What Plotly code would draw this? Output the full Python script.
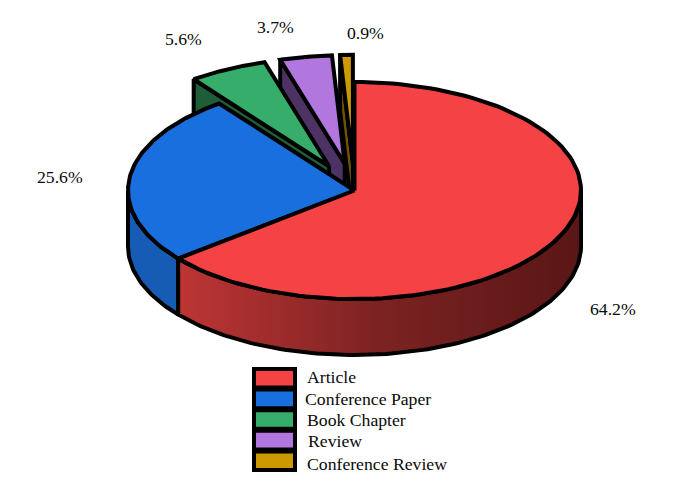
import numpy as np
import plotly.graph_objects as go

categories = ['Article', 'Conference Paper', 'Book Chapter', 'Review', 'Conference Review']
values = [64.2, 25.6, 5.6, 3.7, 0.9]
exploded = [False, False, True, True, True]
colors = ['#F44245', '#1A6FDF', '#37AD6B', '#B177DE', '#CC9900']
side_colors = ['#8E2A2B', '#175CB4', '#1F5C38', '#4C3364', '#6E5300']

# pie geometry in page pixels
cx, cy = 354.5, 190.5
rx, ry = 226.5, 108.5
depth = 56
explode = 0.25
outline = 4
label_pos = [(613, 309), (60, 177), (183, 39), (275, 27), (365, 33)]
legend_text_x = [305, 303, 305, 306, 305]
legend_text_y = [377, 399, 420, 441, 464]

ends = np.cumsum(values) / sum(values) * 360
starts = np.concatenate([[0], ends[:-1]])


def ellipse(theta, ox=0, oy=0):
    t = np.radians(theta)
    return cx + ox + rx * np.sin(t), cy + oy - ry * np.cos(t)


def poly(x, y, fill, **kw):
    return go.Scatter(x=x, y=y, mode='lines', fill='toself', fillcolor=fill,
                      line=dict(color='black', width=outline), hoverinfo='skip',
                      showlegend=False, **kw)


fig = go.Figure()

# back to front: small exploded slices first, red last
for i in [4, 3, 2, 1, 0]:
    a, b = starts[i], ends[i]
    ox, oy = 0, 0
    if exploded[i]:
        mid = (a + b) / 2
        ox = explode * rx * np.sin(np.radians(mid))
        oy = -explode * ry * np.cos(np.radians(mid))
    ax, ay = cx + ox, cy + oy

    if exploded[i]:
        # left radial wall
        ex, ey = ellipse(a, ox, oy)
        fig.add_trace(poly([ax, ex, ex, ax, ax], [ay, ey, ey + depth, ay + depth, ay], side_colors[i]))
    elif i == 1:
        th = np.linspace(a, 270, 40)
        x, y = ellipse(th, ox, oy)
        fig.add_trace(poly(np.r_[x, x[::-1], x[0]], np.r_[y, y[::-1] + depth, y[0]], side_colors[i]))
    else:
        th = np.linspace(90, b, 120)
        x, y = ellipse(th, ox, oy)
        fig.add_trace(poly(np.r_[x, x[::-1], x[0]], np.r_[y, y[::-1] + depth, y[0]], side_colors[i],
                           fillgradient=dict(type='horizontal',
                                             colorscale=[[0, '#BE3535'], [0.5, '#7C2222'], [1, '#5A1616']])))

    th = np.linspace(a, b, 120)
    x, y = ellipse(th, ox, oy)
    fig.add_trace(poly(np.r_[ax, x, ax], np.r_[ay, y, ay], colors[i]))

shapes = []
annotations = []
for i, name in enumerate(categories):
    top = 369 + 20.6 * i
    shapes.append(dict(type='rect', x0=254, x1=295, y0=top, y1=top + 18.6, fillcolor=colors[i],
                       line=dict(color='black', width=outline)))
    annotations.append(dict(x=legend_text_x[i], y=legend_text_y[i], text=name, xanchor='left',
                            yanchor='middle', showarrow=False))
    annotations.append(dict(x=label_pos[i][0], y=label_pos[i][1], text='%.1f%%' % values[i],
                            xanchor='center', yanchor='middle', showarrow=False))

fig.update_layout(
    width=700, height=485,
    margin=dict(l=0, r=0, t=0, b=0),
    paper_bgcolor='white', plot_bgcolor='white',
    font=dict(family='Liberation Serif', size=17.7, color='#0A0A0A'),
    xaxis=dict(range=[0, 700], visible=False, fixedrange=True),
    yaxis=dict(range=[485, 0], visible=False, fixedrange=True),
    shapes=shapes, annotations=annotations,
)

fig.write_html("out.html", config={'displayModeBar': False},
               post_script="document.body.style.margin='0';")
